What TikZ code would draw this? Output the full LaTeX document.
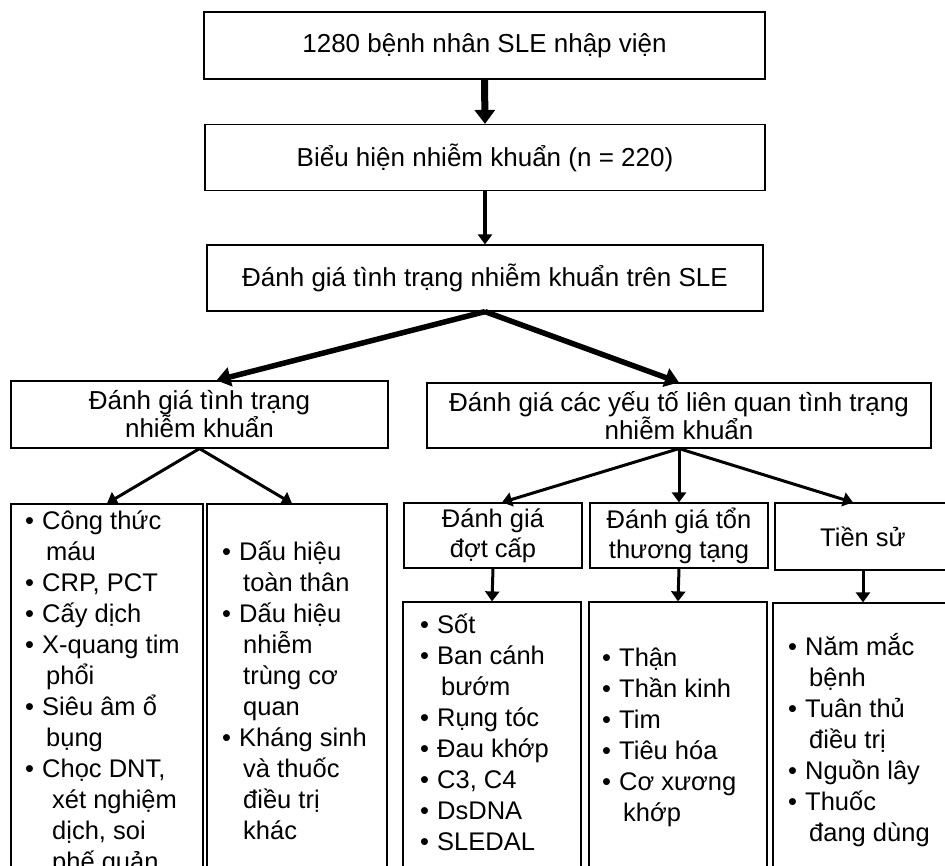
\documentclass[tikz,border=0pt]{standalone}
\usepackage{fontspec}
\setmainfont{Liberation Sans}
\usetikzlibrary{arrows.meta}
\tikzset{box/.style={draw,line width=1.2pt,inner sep=0pt,align=center},
         toptext/.style={font=\fontsize{26}{30}\selectfont},
         midtext/.style={font=\fontsize{26}{28}\selectfont},
         subtext/.style={font=\fontsize{25.5}{30}\selectfont},
         items/.style={anchor=north west,inner sep=0pt,align=left,
                       font=\fontsize{25.5}{31}\selectfont},
         bigarrow/.style={line width=5.5pt,-{Triangle[length=14pt,width=19pt]}},
         smallarrow/.style={line width=3pt,-{Triangle[length=10pt,width=14pt]}}
         }
\newcommand{\bul}{\rule{0pt}{20pt}\makebox[17pt][l]{\textbullet}}
\newcommand{\cont}{\hspace*{21pt}}
\begin{document}
\begin{tikzpicture}[x=1pt,y=-1pt]
\useasboundingbox (0,0) rectangle (945,865);
\clip (0,0) rectangle (945,865);
\node[box,toptext,minimum width=561pt,minimum height=67pt] (admit) at (484.5,45.5) {1280 bệnh nhân SLE nhập viện};
\node[box,toptext,minimum width=560pt,minimum height=66pt] (infect) at (485,157.5) {Biểu hiện nhiễm khuẩn (n = 220)};
\node[box,toptext,minimum width=556pt,minimum height=66pt] (assess) at (485,278) {Đánh giá tình trạng nhiễm khuẩn trên SLE};
\node[box,midtext,minimum width=377pt,minimum height=67pt] (status) at (199.5,414.5) {Đánh giá tình trạng\\nhiễm khuẩn};
\node[box,midtext,minimum width=504pt,minimum height=65pt] (factors) at (679,415.5) {Đánh giá các yếu tố liên quan tình trạng\\nhiễm khuẩn};
\node[box,minimum width=192pt,minimum height=396pt] (labs) at (107,702) {};
\node[box,minimum width=180pt,minimum height=396pt] (signs) at (297,702) {};
\node[box,subtext,minimum width=178pt,minimum height=65pt] (flare) at (493,535.5) {Đánh giá\\đợt cấp};
\node[box,subtext,minimum width=178pt,minimum height=65pt] (organ) at (679,535.5) {Đánh giá tổn\\thương tạng};
\node[box,subtext,minimum width=176pt,minimum height=67pt] (history) at (863,536.5) {Tiền sử};
\node[box,minimum width=178pt,minimum height=298pt] (flarelist) at (492,751) {};
\node[box,minimum width=178pt,minimum height=298pt] (organlist) at (678,751) {};
\node[box,minimum width=180pt,minimum height=298pt] (historylist) at (863,752) {};

\node[items] (labsitems) at (25,509) {\bul Công thức\\\cont máu\\\bul CRP, PCT\\\bul Cấy dịch\\\bul X-quang tim\\\cont phổi\\\bul Siêu âm ổ\\\cont bụng\\\bul Chọc DNT,\\\cont\hspace*{6pt}xét nghiệm\\\cont\hspace*{6pt}dịch, soi\\\cont\hspace*{6pt}phế quản};
\node[items] (signsitems) at (222,540) {\bul Dấu hiệu\\\cont toàn thân\\\bul Dấu hiệu\\\cont nhiễm\\\cont trùng cơ\\\cont quan\\\bul Kháng sinh\\\cont và thuốc\\\cont điều trị\\\cont khác};
\node[items] (flareitems) at (420,613) {\bul Sốt\\\bul Ban cánh\\\cont bướm\\\bul Rụng tóc\\\bul Đau khớp\\\bul C3, C4\\\bul DsDNA\\\bul SLEDAL};
\node[items] (organitems) at (602,646) {\bul Thận\\\bul Thần kinh\\\bul Tim\\\bul Tiêu hóa\\\bul Cơ xương\\\cont khớp};
\node[items] (historyitems) at (788,633) {\bul Năm mắc\\\cont bệnh\\\bul Tuân thủ\\\cont điều trị\\\bul Nguồn lây\\\bul Thuốc\\\cont đang dùng};

\draw[bigarrow,line width=7pt,-{Triangle[length=14pt,width=20pt]}] (admit.south) -- (infect.north);
\draw[smallarrow,line width=4.5pt] (infect.south) -- (assess.north);
\draw[bigarrow] (assess.south) -- ([xshift=17pt]status.north);
\draw[bigarrow] (assess.south) -- (factors.north);
\draw[smallarrow] (status.south) -- (labs.north);
\draw[smallarrow] (status.south) -- ([xshift=-5pt]signs.north);
\draw[smallarrow] (factors.south) -- ([xshift=9pt]flare.north);
\draw[smallarrow] (factors.south) -- (organ.north);
\draw[smallarrow] (factors.south) -- ([xshift=-10pt]history.north);
\draw[smallarrow] (flare.south) -- (flarelist.north);
\draw[smallarrow] (organ.south) -- (organlist.north);
\draw[smallarrow] (history.south) -- (historylist.north);
\end{tikzpicture}
\end{document}
